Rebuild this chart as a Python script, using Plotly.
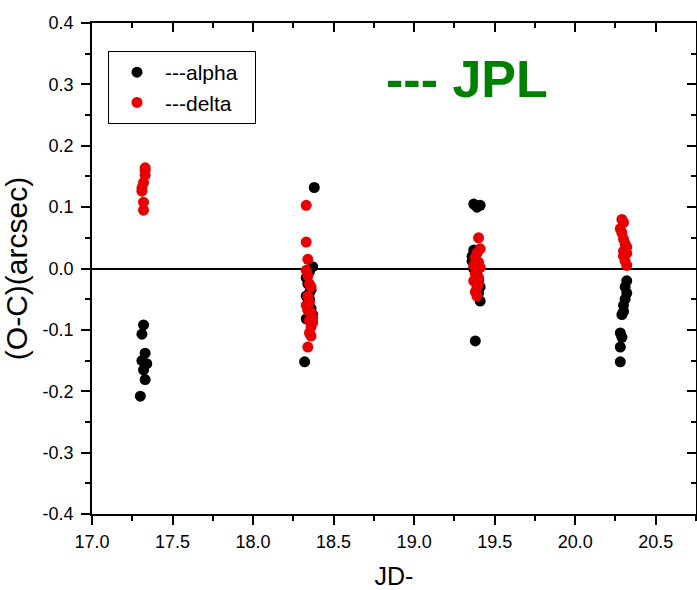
import plotly.graph_objects as go

# ---- data ----
alpha_jd = [17.32, 17.31, 17.33, 17.31, 17.34, 17.32, 17.30, 17.33,
            18.38, 18.37, 18.35, 18.33, 18.34, 18.36, 18.33, 18.35, 18.34, 18.36, 18.33, 18.37, 18.35, 18.32,
            19.37, 19.39, 19.41, 19.37, 19.36, 19.38, 19.37, 19.39, 19.40, 19.41, 19.40, 19.41, 19.38, 19.36, 19.38,
            20.32, 20.31, 20.32, 20.31, 20.30, 20.30, 20.29, 20.28, 20.29, 20.28, 20.28]
alpha_oc = [-0.092, -0.107, -0.138, -0.150, -0.155, -0.165, -0.208, -0.181,
            0.132, 0.003, -0.005, -0.015, -0.025, -0.035, -0.045, -0.050, -0.058, -0.065, -0.082, -0.075, -0.040, -0.152,
            0.105, 0.100, 0.103, 0.030, 0.020, 0.010, 0.000, -0.010, -0.020, -0.030, -0.040, -0.053, -0.118, 0.012, -0.005,
            -0.020, -0.030, -0.040, -0.050, -0.060, -0.070, -0.075, -0.105, -0.112, -0.128, -0.152]

delta_jd = [17.33, 17.33, 17.32, 17.31, 17.31, 17.32, 17.32, 17.33,
            18.33, 18.33, 18.34, 18.33, 18.34, 18.35, 18.36, 18.34, 18.35, 18.33, 18.34, 18.36, 18.37, 18.35,
            18.36, 18.37, 18.35, 18.36, 18.34,
            19.40, 19.41, 19.39, 19.38, 19.40, 19.37, 19.39, 19.38, 19.40, 19.37, 19.39, 19.38, 19.39, 19.41, 19.40,
            20.29, 20.30, 20.28, 20.29, 20.30, 20.31, 20.32, 20.32, 20.30, 20.31, 20.32, 20.30]
delta_oc = [0.164, 0.152, 0.140, 0.131, 0.126, 0.108, 0.095, 0.160,
            0.103, 0.043, 0.015, -0.003, -0.012, -0.025, -0.030, -0.045, -0.055, -0.060, -0.068, -0.072, -0.080, -0.085,
            -0.095, -0.088, -0.105, -0.110, -0.128,
            0.050, 0.032, 0.025, 0.018, 0.010, 0.005, -0.002, -0.008, -0.015, -0.020, -0.030, -0.038, -0.045, 0.002, -0.025,
            0.080, 0.075, 0.065, 0.058, 0.048, 0.040, 0.035, 0.025, 0.020, 0.012, 0.005, 0.028]

x_ticks = [17.0, 17.5, 18.0, 18.5, 19.0, 19.5, 20.0, 20.5]
y_ticks = [-0.4, -0.3, -0.2, -0.1, 0.0, 0.1, 0.2, 0.3, 0.4]

FONT = "Liberation Sans, Arial, sans-serif"
L, R, T, B = 92, 1, 23, 76
W, H = 697, 590
PW, PH = W - L - R, H - T - B

fig = go.Figure()
fig.add_trace(go.Scatter(x=alpha_jd, y=alpha_oc, mode="markers", name="---alpha\u00a0\u00a0",
                         marker=dict(color="black", size=11)))
fig.add_trace(go.Scatter(x=delta_jd, y=delta_oc, mode="markers", name="---delta",
                         marker=dict(color="#e60000", size=11)))
# invisible trace to force the top and right tick axes
fig.add_trace(go.Scatter(x=[17.0], y=[0], xaxis="x2", yaxis="y2", mode="markers",
                         marker=dict(opacity=0), showlegend=False, hoverinfo="skip"))

fig.update_layout(
    width=W, height=H,
    margin=dict(l=L, r=R, t=T, b=B, autoexpand=False),
    paper_bgcolor="white", plot_bgcolor="white",
    font=dict(family=FONT, color="black", size=18),
    showlegend=True,
    legend=dict(x=(108 - L) / PW, y=(H - B - 51) / PH, xanchor="left", yanchor="top",
                bordercolor="black", borderwidth=1, bgcolor="white",
                font=dict(size=21), itemwidth=46),
    xaxis=dict(range=[17.0, 20.75], tickvals=x_ticks,
               ticktext=[f"{v:.1f}" for v in x_ticks], automargin=False,
               showline=True, linecolor="black", linewidth=1.5, mirror=True,
               ticks="outside", ticklen=9, tickcolor="black", tickwidth=1.5,
               minor=dict(dtick=0.25, tick0=17.0, ticks="outside", ticklen=5, tickcolor="black", tickwidth=1.5),
               showgrid=False, zeroline=False, ticklabelstandoff=2,
               title=dict(text="JD-", font=dict(size=25), standoff=20)),
    xaxis2=dict(range=[17.0, 20.75], overlaying="x", side="top", showticklabels=False,
                tickvals=x_ticks, ticks="inside", ticklen=9, tickcolor="black", tickwidth=1.5,
                minor=dict(dtick=0.25, tick0=17.0, ticks="inside", ticklen=5, tickcolor="black", tickwidth=1.5),
                showgrid=False, zeroline=False, showline=False, automargin=False),
    yaxis=dict(range=[-0.4, 0.4], tickvals=y_ticks,
               ticktext=[f"{v:.1f}" for v in y_ticks], automargin=False,
               showline=True, linecolor="black", linewidth=1.5, mirror=True,
               ticks="outside", ticklen=9, tickcolor="black", tickwidth=1.5,
               minor=dict(dtick=0.05, tick0=0.0, ticks="outside", ticklen=5, tickcolor="black", tickwidth=1.5),
               showgrid=False, zeroline=True, zerolinecolor="black", zerolinewidth=1.5,
               ticklabelstandoff=4,
               title=dict(text="(O-C)(arcsec)", font=dict(size=30), standoff=10)),
    yaxis2=dict(range=[-0.4, 0.4], overlaying="y", side="right", showticklabels=False,
                tickvals=y_ticks, ticks="inside", ticklen=9, tickcolor="black", tickwidth=1.5,
                minor=dict(dtick=0.05, tick0=0.0, ticks="inside", ticklen=5, tickcolor="black", tickwidth=1.5),
                showgrid=False, zeroline=False, showline=False, automargin=False),
    annotations=[dict(text="<b>--- JPL</b>", x=(467 - L) / PW, y=(H - B - 79) / PH,
                      xref="paper", yref="paper", xanchor="center", yanchor="middle",
                      showarrow=False, font=dict(size=52, color="#008000", family=FONT))],
)

fig.write_html("out.html", config={"displayModeBar": False},
               post_script="document.body.style.margin='0';document.body.style.overflow='hidden';")
